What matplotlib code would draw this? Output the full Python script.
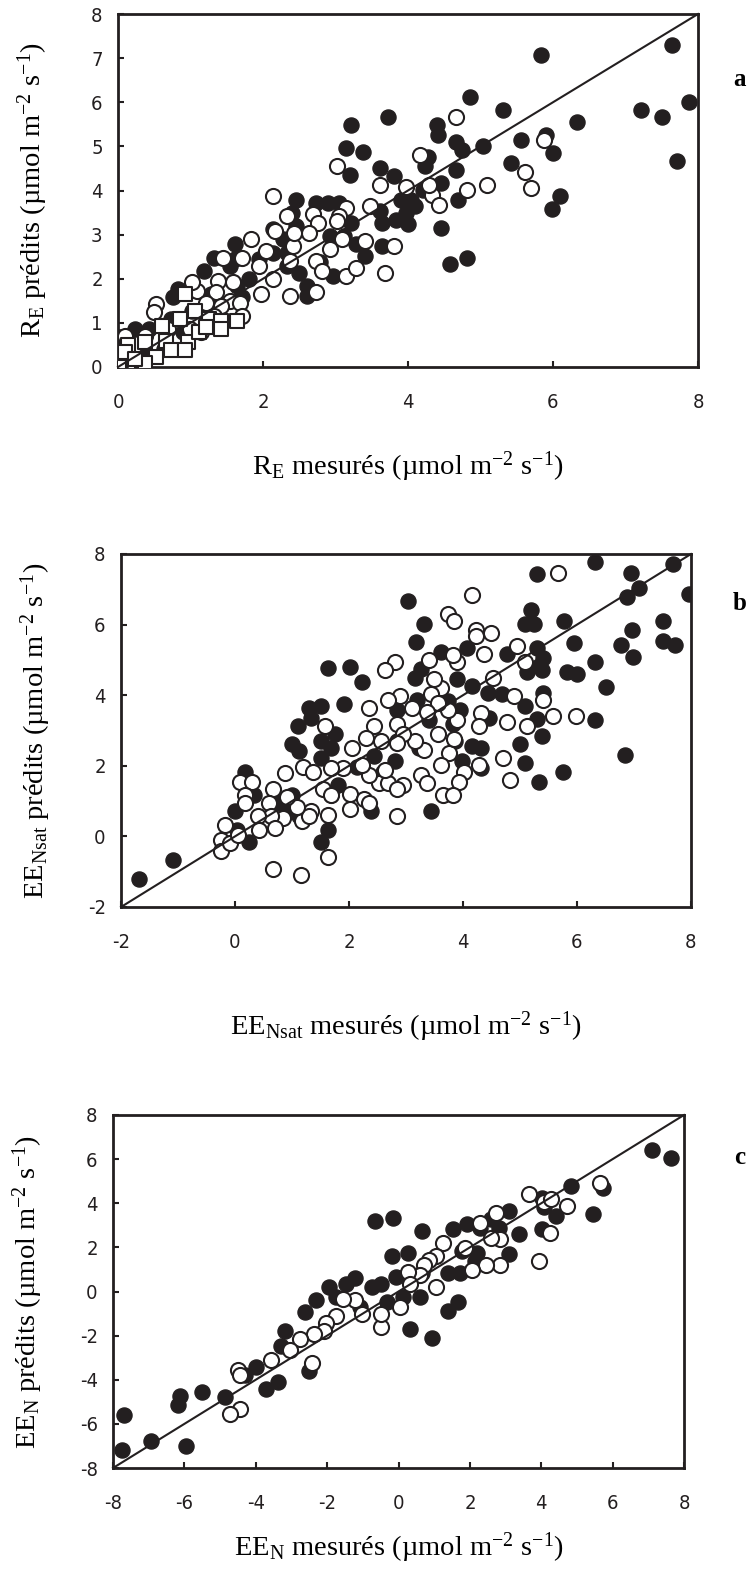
import numpy as np
import matplotlib
matplotlib.use("Agg")
import matplotlib.pyplot as plt
from matplotlib import font_manager

plt.rcParams['axes.unicode_minus'] = False
plt.rcParams['mathtext.default'] = 'regular'

# ---- panel a : R_E ----
a_full_x = [7.64, 5.83, 4.86, 5.31, 7.21, 7.50, 7.87, 7.71, 6.33, 3.73, 3.22, 4.40, 4.42, 3.15, 3.38,
            3.20, 4.66, 4.74, 5.04, 5.56, 5.90, 6.00, 5.42, 4.27, 4.23, 3.61, 3.81, 4.46, 4.66, 4.69,
            6.10, 5.99, 4.46, 4.58, 4.82, 4.20, 4.04, 4.10, 3.91, 3.97, 3.84, 4.00, 3.64, 3.61, 3.64,
            3.41, 3.28, 3.12, 2.92, 3.05, 2.89, 2.73, 3.22, 2.45, 2.40, 2.46, 2.27, 2.33, 2.49, 2.60,
            2.60, 2.96, 2.79, 2.14, 2.14, 1.94, 1.61, 1.61, 1.55, 1.32, 1.19, 1.64, 0.83, 0.76, 1.02,
            0.43, 0.24, 0.01, 0.00, 0.73, 0.89, 0.63, 0.37, 1.28, 1.80, 1.71, 2.33]
a_full_y = [7.29, 7.06, 6.12, 5.82, 5.82, 5.67, 6.01, 4.66, 5.55, 5.67, 5.48, 5.48, 5.26, 4.96, 4.88,
            4.36, 5.11, 4.92, 5.01, 5.15, 5.26, 4.85, 4.62, 4.77, 4.55, 4.51, 4.32, 4.17, 4.47, 3.79,
            3.87, 3.57, 3.16, 2.33, 2.46, 4.02, 3.79, 3.64, 3.79, 3.49, 3.34, 3.23, 3.27, 3.53, 2.74,
            2.52, 2.78, 2.97, 2.97, 3.72, 3.72, 3.72, 3.27, 3.79, 3.49, 3.19, 2.89, 2.59, 2.14, 1.84,
            1.61, 2.07, 2.37, 3.12, 2.59, 2.44, 2.78, 2.44, 2.29, 2.48, 2.18, 1.84, 1.77, 1.58, 1.28,
            0.86, 0.86, 0.68, 0.64, 1.09, 0.79, 0.41, 0.26, 1.65, 1.99, 1.58, 2.29]
a_open_x = [4.66, 5.87, 4.17, 5.62, 5.69, 5.09, 4.82, 4.33, 4.43, 3.97, 4.29, 3.02, 2.14, 3.61, 3.48,
            3.15, 3.05, 3.02, 3.09, 3.15, 3.28, 3.41, 3.81, 3.68, 2.69, 2.76, 2.63, 2.92, 2.73, 2.82,
            2.73, 2.37, 2.37, 2.42, 2.43, 2.33, 2.17, 2.04, 1.94, 1.97, 2.14, 1.84, 1.71, 1.45, 1.38,
            1.58, 1.35, 1.55, 1.09, 1.02, 0.53, 0.50, 1.22, 1.42, 1.68, 1.71, 0.69, 0.10, 0.37, 0.99,
            1.15, 1.32]
a_open_y = [5.67, 5.14, 4.81, 4.43, 4.05, 4.13, 4.02, 3.90, 3.68, 4.09, 4.13, 4.55, 3.87, 4.13, 3.64,
            3.61, 3.42, 3.31, 2.89, 2.07, 2.25, 2.85, 2.74, 2.14, 3.46, 3.27, 3.04, 2.67, 2.40, 2.18,
            1.69, 1.61, 2.40, 2.74, 3.04, 3.42, 3.08, 2.63, 2.29, 1.65, 1.99, 2.89, 2.48, 2.48, 1.95,
            1.92, 1.69, 1.50, 1.73, 1.92, 1.43, 1.24, 1.46, 1.39, 1.46, 1.16, 0.86, 0.71, 0.71, 0.86,
            0.79, 1.16]
a_sq_x = [0.92, 1.06, 0.86, 1.25, 1.42, 1.64, 0.60, 0.96, 1.12, 0.14, 0.37, 0.66, 0.73, 0.53, 0.92,
          0.14, 0.04, 0.10, 0.01, 0.37, 0.24, 1.22, 1.42]
a_sq_y = [1.65, 1.28, 1.09, 1.09, 1.05, 1.05, 0.94, 0.56, 0.79, 0.49, 0.56, 0.60, 0.38, 0.23, 0.38,
          0.04, 0.15, 0.34, 0.00, 0.08, 0.19, 0.90, 0.86]

# ---- panel b : EE_Nsat ----
b_full_x = [-1.68, -1.08, 6.32, 7.68, 5.29, 6.95, 7.09, 6.88, 7.96, 3.04, 5.20, 5.77, 6.97, 7.51, 7.51,
            7.72, 6.78, 6.98, 5.94, 5.08, 5.25, 5.29, 6.32, 6.51, 6.32, 6.84, 5.75, 5.33, 5.08, 5.00,
            5.38, 5.30, 5.08, 5.40, 5.12, 5.39, 5.40, 5.83, 6.00, 5.33, 4.78, 4.07, 3.31, 3.17, 3.61,
            3.27, 3.15, 3.89, 4.15, 4.43, 4.68, 4.45, 3.73, 3.94, 3.19, 3.40, 3.82, 3.86, 4.15, 4.32,
            4.32, 3.99, 3.44, 3.23, 2.81, 2.85, 2.85, 2.43, 2.39, 2.22, 2.01, 1.64, 1.91, 1.30, 1.51,
            1.34, 1.11, 1.51, 1.68, 1.76, 1.00, 1.13, 2.14, 2.60, 1.80, 1.68, 1.64, 1.51, 1.51, 0.17,
            0.17, 0.33, 0.00, 0.04, 0.25, 1.00, 0.92, 1.13, 0.75]
b_full_y = [-1.22, -0.67, 7.76, 7.71, 7.42, 7.47, 7.03, 6.79, 6.88, 6.66, 6.42, 6.11, 5.86, 6.11, 5.54,
            5.43, 5.43, 5.09, 5.48, 6.01, 6.01, 5.33, 4.94, 4.24, 3.29, 2.32, 1.83, 1.54, 2.08, 2.61,
            2.85, 3.33, 3.68, 4.07, 4.65, 4.70, 5.04, 4.65, 4.60, 4.84, 5.18, 5.33, 6.03, 5.52, 5.23,
            4.75, 4.50, 4.46, 4.26, 4.07, 4.02, 3.34, 3.83, 3.58, 3.87, 3.29, 3.19, 2.71, 2.56, 2.51,
            1.93, 2.13, 0.72, 2.51, 2.13, 2.71, 3.58, 2.27, 0.72, 4.36, 4.79, 4.77, 3.76, 3.63, 3.70,
            3.34, 3.14, 2.71, 2.51, 2.90, 2.61, 2.42, 1.98, 1.83, 1.45, 1.16, 0.18, -0.16, 2.22, 1.83,
            1.45, 1.16, 0.72, 0.18, -0.16, 1.16, 0.77, 0.57, 0.96]
b_open_x = [5.67, 4.15, 3.73, 3.84, 4.23, 4.49, 4.23, 4.36, 4.95, 5.08, 4.53, 4.89, 5.40, 5.58, 5.98,
            5.12, 4.78, 4.31, 4.28, 4.28, 4.70, 4.83, 4.01, 3.93, 3.65, 3.82, 3.76, 3.84, 3.90, 3.73,
            3.61, 3.49, 3.40, 3.90, 3.82, 3.44, 3.57, 3.36, 3.57, 3.31, 3.61, 3.27, 3.36, 3.10, 3.15,
            2.81, 2.64, 2.89, 2.68, 2.35, 2.43, 2.85, 2.94, 2.84, 2.56, 2.30, 2.05, 2.52, 2.69, 2.94,
            2.85, 2.85, 2.64, 2.35, 2.22, 2.01, 2.26, 2.35, 2.01, 1.89, 1.68, 1.58, 1.19, 1.36, 1.55,
            1.68, 1.33, 1.64, 1.17, 1.30, 1.09, 0.92, 0.88, 0.84, 0.67, 0.59, 0.63, 0.71, 0.40, 0.42,
            0.08, 0.29, 0.17, 0.17, -0.17, -0.25, -0.25, -0.09, 0.06, 1.64, 0.67, 1.16]
b_open_y = [7.47, 6.83, 6.30, 6.09, 5.86, 5.77, 5.67, 5.18, 5.38, 4.94, 4.50, 3.99, 3.87, 3.41, 3.42,
            3.14, 3.24, 3.49, 3.14, 2.03, 2.22, 1.59, 1.83, 1.54, 1.16, 1.16, 2.37, 2.76, 3.29, 3.58,
            4.21, 4.46, 4.99, 4.94, 5.14, 4.02, 3.78, 3.53, 2.90, 2.46, 2.03, 1.74, 1.50, 3.63, 2.71,
            4.94, 4.70, 3.97, 3.87, 3.63, 3.14, 3.19, 2.90, 2.66, 2.71, 2.80, 2.51, 1.50, 1.50, 1.45,
            1.35, 0.57, 1.88, 1.74, 2.03, 1.20, 1.06, 0.96, 0.77, 1.93, 1.93, 3.14, 1.98, 1.83, 1.35,
            1.16, 0.72, 0.62, 0.43, 0.57, 0.82, 1.11, 1.79, 0.52, 1.35, 0.96, 0.57, 0.23, 0.57, 0.18,
            1.54, 1.54, 1.16, 0.96, 0.33, -0.11, -0.40, -0.20, 0.04, -0.59, -0.93, -1.08]

# ---- panel c : EE_N ----
c_full_x = [7.10, 7.64, 4.82, 5.72, 5.45, 4.42, 4.01, 4.08, 4.01, 3.38, 3.11, 3.11, 2.81, 2.60, 2.27,
            1.91, 1.53, 1.79, 2.20, 2.13, 1.73, 1.40, 1.66, 1.40, 0.93, 0.32, 0.66, 0.26, 0.66, 0.59,
            -0.15, -0.66, -0.19, -0.08, -0.48, -0.75, -0.32, 0.12, -1.09, -1.22, -1.46, -1.96, -1.76,
            -2.30, -2.63, -3.19, -3.30, -2.52, -4.00, -3.37, -3.70, -4.31, -4.85, -5.52, -6.12, -6.19,
            -5.95, -6.93, -7.70, -7.76]
c_full_y = [6.42, 6.07, 4.80, 4.70, 3.51, 3.40, 4.25, 3.85, 2.82, 2.59, 3.66, 1.71, 2.89, 3.28, 2.89,
            3.05, 2.82, 1.82, 1.74, 1.36, 0.82, 0.82, -0.48, -0.87, -2.09, -1.71, 2.74, 1.74, 0.82,
            -0.26, 3.35, 3.20, 1.59, 0.67, 0.36, 0.21, -0.48, -0.25, -0.71, 0.59, 0.36, 0.21, -0.25,
            -0.40, -0.94, -1.79, -2.48, -3.60, -3.40, -4.10, -4.40, -3.78, -4.78, -4.55, -4.75, -5.15,
            -7.00, -6.77, -5.62, -7.20]
c_open_x = [5.66, 3.65, 4.08, 4.28, 4.72, 4.24, 3.95, 2.74, 2.85, 2.85, 2.60, 2.27, 2.44, 2.07, 1.87,
            1.26, 1.06, 0.86, 0.72, 1.06, 0.59, 0.26, 0.32, 0.05, -0.48, -0.48, -1.02, -1.22, -1.56,
            -1.76, -2.03, -2.09, -2.36, -2.77, -2.43, -3.03, -3.57, -4.51, -4.44, -4.44, -4.71]
c_open_y = [4.90, 4.42, 4.07, 4.20, 3.89, 2.63, 1.40, 3.58, 2.36, 1.21, 2.43, 3.12, 1.21, 0.98, 1.97,
            2.20, 1.59, 1.44, 1.21, 0.21, 0.75, 0.90, 0.36, -0.71, -1.63, -1.02, -1.02, -0.40, -0.33,
            -1.09, -1.45, -1.79, -1.94, -2.17, -3.24, -2.63, -3.09, -3.55, -3.78, -5.31, -5.54]

panels = [
    dict(full=(a_full_x, a_full_y), open=(a_open_x, a_open_y), sq=(a_sq_x, a_sq_y),
         lim=(0, 8), xticks=[0, 2, 4, 6, 8], yticks=[0, 1, 2, 3, 4, 5, 6, 7, 8],
         sub='E', letter='a', box=(118, 14, 698, 367), xlab_off=100, let=(739, 79)),
    dict(full=(b_full_x, b_full_y), open=(b_open_x, b_open_y), sq=None,
         lim=(-2, 8), xticks=[-2, 0, 2, 4, 6, 8], yticks=[-2, 0, 2, 4, 6, 8],
         sub='Nsat', letter='b', box=(121, 554, 691, 907), xlab_off=120, let=(740, 603)),
    dict(full=(c_full_x, c_full_y), open=(c_open_x, c_open_y), sq=None,
         lim=(-8, 8), xticks=[-8, -6, -4, -2, 0, 2, 4, 6, 8], yticks=[-8, -6, -4, -2, 0, 2, 4, 6, 8],
         sub='N', letter='c', box=(113, 1115, 684, 1468), xlab_off=80, let=(740, 1158)),
]

# narrow sans for tick numbers, if the system has one
installed = {f.name for f in font_manager.fontManager.ttflist}
narrow_ok = 'Liberation Sans Narrow' in installed
cond_ok = any(f.name == 'DejaVu Sans' and f.stretch == 'condensed' for f in font_manager.fontManager.ttflist)
if narrow_ok:
    tickfont, tickstretch = ['Liberation Sans Narrow'], 'normal'
elif cond_ok:
    tickfont, tickstretch = ['DejaVu Sans'], 'condensed'
else:
    tickfont, tickstretch = ['Liberation Sans'], 'normal'

W, H = 749, 1571
fig = plt.figure(figsize=(W / 100, H / 100), dpi=100)
ink = '#231f20'
serif = ['Liberation Serif', 'DejaVu Serif']

for p in panels:
    l, t, r, b = p['box']
    ax = fig.add_axes([l / W, 1 - b / H, (r - l) / W, (b - t) / H])
    ax.scatter(*p['full'], s=118, c=ink, edgecolors=ink, linewidths=1.0, zorder=3)
    ax.scatter(*p['open'], s=118, c='white', edgecolors=ink, linewidths=1.5, zorder=4)
    if p['sq'] is not None:
        ax.scatter(*p['sq'], s=110, marker='s', c='white', edgecolors=ink, linewidths=1.5, zorder=5)
    lo, hi = p['lim']
    ax.plot([lo, hi], [lo, hi], color=ink, lw=1.5, zorder=6, clip_on=False)
    ax.set_xlim(lo, hi)
    ax.set_ylim(lo, hi)
    ax.set_xticks(p['xticks'])
    ax.set_yticks(p['yticks'])
    for s in ax.spines.values():
        s.set_linewidth(2.0)
        s.set_color(ink)
    ax.tick_params(direction='in', length=4, width=1.5, color=ink, labelsize=14.5)
    ax.tick_params(axis='x', pad=19)
    ax.tick_params(axis='y', pad=11)
    for lab in ax.get_xticklabels() + ax.get_yticklabels():
        lab.set_family(tickfont)
        lab.set_stretch(tickstretch)
        lab.set_color(ink)
    sub = p['sub']
    unit = ' (µmol m$^{-2}$ s$^{-1}$)'
    name = 'R' if sub == 'E' else 'EE'
    ax.text(0.5, -p['xlab_off'] / (b - t), name + '$_{' + sub + '}$ mesurés' + unit,
            transform=ax.transAxes, ha='center', va='center', fontsize=20.5, family=serif)
    ax.text(-85 / (r - l), 0.5, name + '$_{' + sub + '}$ prédits' + unit,
            transform=ax.transAxes, ha='center', va='center', rotation=90, fontsize=20.5, family=serif)
    lx, ly = p['let']
    fig.text(lx / W, 1 - ly / H, p['letter'], ha='center', va='center', fontsize=18,
             fontweight='bold', family=serif)

fig.savefig('out.png', dpi=100)
